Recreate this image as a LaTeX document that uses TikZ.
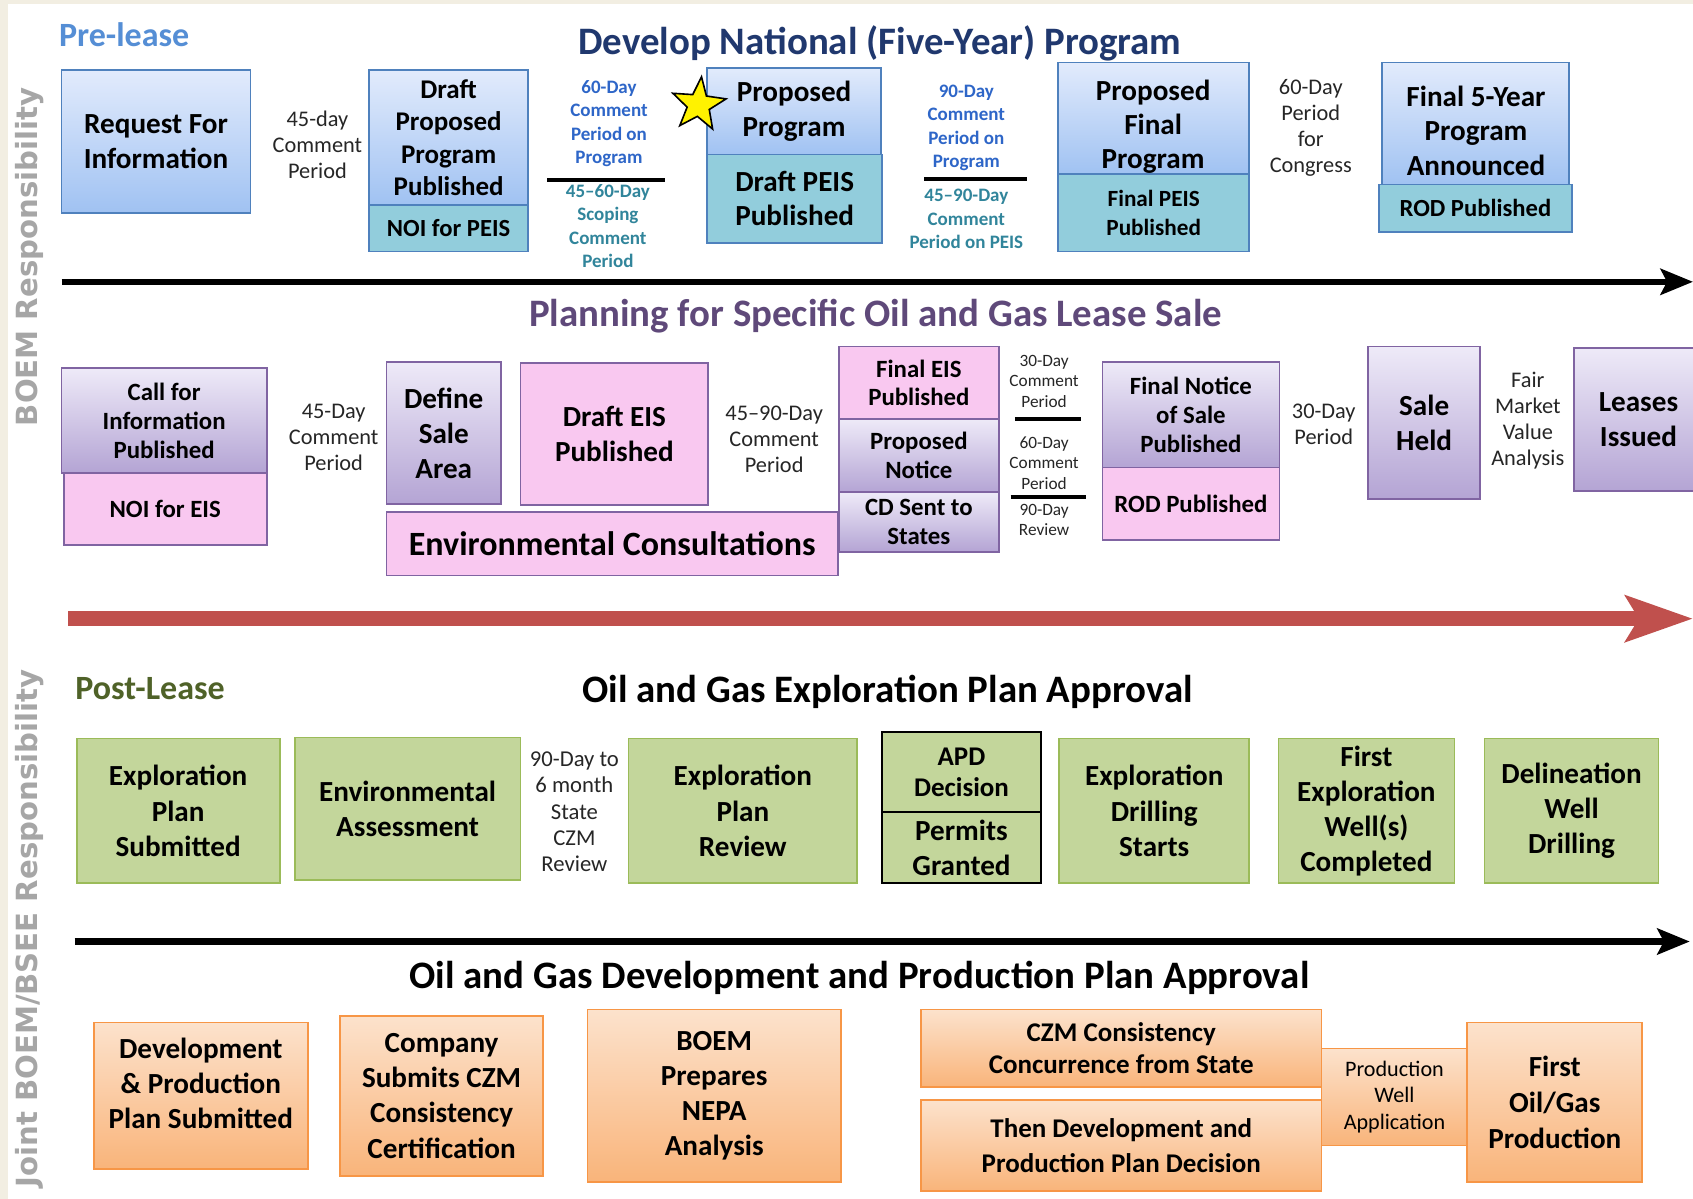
\documentclass[tikz,border=0pt]{standalone}
\usepackage{fontspec}
\setmainfont{Carlito}
\newfontfamily\sidefont{DejaVu Sans}
\usetikzlibrary{arrows.meta,shapes.geometric}
\definecolor{beige}{RGB}{242,238,226}
\definecolor{navy}{RGB}{32,56,110}
\definecolor{preblue}{RGB}{85,142,213}
\definecolor{bluB}{RGB}{79,129,189}
\definecolor{blueT}{RGB}{226,235,252}
\definecolor{blueBt}{RGB}{160,194,242}
\definecolor{tealF}{RGB}{146,205,220}
\definecolor{txtblue}{RGB}{46,102,200}
\definecolor{txtteal}{RGB}{49,133,155}
\definecolor{purTitle}{RGB}{95,73,122}
\definecolor{purB}{RGB}{128,100,162}
\definecolor{purT}{RGB}{238,234,248}
\definecolor{purBt}{RGB}{180,164,212}
\definecolor{pinkF}{RGB}{249,200,240}
\definecolor{grnF}{RGB}{195,214,155}
\definecolor{grnB}{RGB}{155,187,89}
\definecolor{grnTitle}{RGB}{79,98,40}
\definecolor{orgB}{RGB}{247,150,70}
\definecolor{orgT}{RGB}{252,226,204}
\definecolor{orgBt}{RGB}{249,180,122}
\definecolor{redA}{RGB}{192,80,77}
\definecolor{sidegray}{RGB}{166,166,166}
\definecolor{dtxt}{RGB}{38,38,38}
\newcommand\fsz[2]{\fontsize{#1pt}{#2pt}\selectfont}
\newcommand\bx[7]{\node[#6, minimum width={#4-#2}, minimum height={#5-#3}] (#1) at ({(#2+#4)/2},{(#3+#5)/2}) {#7};}
\begin{document}
\begin{tikzpicture}[x=1pt,y=-1pt,
  every node/.style={inner sep=0pt, align=center},
  boxbase/.style={line width=1.6pt, font=\bfseries\fsz{27}{32}},
  blu/.style={boxbase, draw=bluB, top color=blueT, bottom color=blueBt},
  tealbox/.style={boxbase, draw=bluB, fill=tealF},
  pur/.style={boxbase, draw=purB, top color=purT, bottom color=purBt},
  pnk/.style={boxbase, draw=purB, fill=pinkF},
  grn/.style={boxbase, draw=grnB, fill=grnF, font=\bfseries\fsz{27}{32.5}},
  org/.style={boxbase, draw=orgB, top color=orgT, bottom color=orgBt, font=\bfseries\fsz{27}{32.5}},
  lbl/.style={text=dtxt, font=\fsz{20.7}{24.3}},
  sml/.style={text=dtxt, font=\fsz{16}{19}},
  bluetxt/.style={text=txtblue, font=\bfseries\fsz{17.6}{21.7}},
  tealtxt/.style={text=txtteal, font=\bfseries\fsz{17.6}{21.7}},
  ttl/.style={font=\bfseries\fsz{36}{40}},
  side/.style={rotate=90, text=sidegray, font=\sidefont\bfseries\fsz{27}{30}},
  bar/.style={line width=4pt, draw=black},
  blackarrow/.style={line width=6pt, -{Stealth[length=30pt,width=24pt,inset=6pt]}},
  redarrow/.style={line width=14pt, draw=redA, -{Stealth[length=62pt,width=42pt,inset=12pt]}}
]
\useasboundingbox (0,0) rectangle (1568,1110);
\fill[white] (0,0) rectangle (1568,1110);
\fill[beige] (0,0) rectangle (1568,4);
\fill[beige] (0,0) rectangle (7,1110);

% side labels
\node[side] (sideA) at (27,238) {BOEM Responsibility};
\node[side] (sideB) at (27,860) {Joint BOEM/BSEE Responsibility};

% ---------------- Section 1
\node[text=preblue, font=\bfseries\fsz{31.5}{34}] (pre) at (115,32) {Pre-lease};
\node[ttl, text=navy] (title1) at (815,40) {Develop National (Five-Year) Program};

\bx{rfi}{57}{65}{232}{197}{blu}{Request For\\Information}
\node[lbl] (c45) at (294,134) {45-day\\Comment\\Period};
\bx{dpp}{342}{65}{489}{190}{blu, font=\bfseries\fsz{25}{30}}{Draft\\Proposed\\Program\\Published}
\bx{noi}{342}{190}{489}{233}{tealbox, font=\bfseries\fsz{22.8}{26}}{NOI for PEIS}
\node[bluetxt] (bl1) at (564,114.5) {60-Day\\Comment\\Period on\\Program};
\coordinate (l1a) at (507,167); \coordinate (l1b) at (616,167);
\draw[bar] (l1a) -- (l1b);
\node[tealtxt] (tl1) at (563,209.5) {45--60-Day\\Scoping\\Comment\\Period};
\bx{pp}{655}{63}{816}{143}{blu}{Proposed\\Program}
\bx{dpeis}{655}{143}{817}{225}{tealbox}{Draft PEIS\\Published}
\node[star, star points=5, star point ratio=2.4, draw=black, fill=yellow, line width=1.5pt, minimum size=52pt, rotate=-6] (star) at (647,97) {};
\node[bluetxt] (bl2) at (895,118.5) {90-Day\\Comment\\Period on\\Program};
\coordinate (l2a) at (856,166); \coordinate (l2b) at (951,166);
\draw[bar] (l2a) -- (l2b);
\node[tealtxt] (tl2) at (895,203) {45--90-Day\\Comment\\Period on PEIS};
\bx{pfp}{980}{58}{1157}{161}{blu}{}
\node[font=\bfseries\fsz{27}{31.5}] (pfpT) at (1068,117.5) {Proposed\\Final\\Program};
\bx{fpeis}{980}{161}{1157}{233}{tealbox, font=\bfseries\fsz{21.5}{27}}{Final PEIS\\Published}
\node[lbl] (c60) at (1214,118.5) {60-Day\\Period\\for\\Congress};
\bx{f5}{1280}{58}{1453}{171}{blu}{}
\node[font=\bfseries\fsz{27}{32}] (f5T) at (1367,121) {Final 5-Year\\Program\\Announced};
\bx{rod1}{1277}{171}{1456}{215}{tealbox, font=\bfseries\fsz{22.8}{26}}{ROD Published}
\coordinate (a1s) at (57,261); \coordinate (a1e) at (1568,261);
\draw[blackarrow] (a1s) -- (a1e);

% ---------------- Section 2
\node[ttl, text=purTitle] (title2) at (811,293) {Planning for Specific Oil and Gas Lease Sale};
\bx{cfi}{57}{341}{247}{438}{pur, font=\bfseries\fsz{23}{27}}{Call for\\Information\\Published}
\bx{noi2}{59}{438}{247}{505}{pnk, font=\bfseries\fsz{23}{26}}{NOI for EIS}
\node[lbl] (c45b) at (309,405) {45-Day\\Comment\\Period};
\bx{dsa}{358}{335}{464}{467}{pur, font=\bfseries\fsz{27}{32.5}}{Define\\Sale\\Area}
\bx{deis}{482}{336}{656}{468}{pnk}{Draft EIS\\Published}
\bx{envc}{358}{474}{776}{533}{pnk, font=\bfseries\fsz{31.5}{34}}{Environmental Consultations}
\node[lbl] (c4590) at (717,407) {45--90-Day\\Comment\\Period};
\bx{feis}{777}{321}{925}{388}{pnk, font=\bfseries\fsz{23}{26.5}}{Final EIS\\Published}
\bx{pn}{777}{388}{925}{456}{pur, font=\bfseries\fsz{23}{26.5}}{Proposed\\Notice}
\bx{cd}{777}{456}{925}{511}{pur, font=\bfseries\fsz{23}{26.5}}{CD Sent to\\States}
\node[sml] (s30) at (967,353) {30-Day\\Comment\\Period};
\coordinate (lAa) at (940,388); \coordinate (lAb) at (1001,388);
\draw[bar, line width=3.5pt] (lAa) -- (lAb);
\node[sml] (s60) at (967,429) {60-Day\\Comment\\Period};
\coordinate (lBa) at (936,460); \coordinate (lBb) at (1006,460);
\draw[bar, line width=3.5pt] (lBa) -- (lBb);
\node[sml] (s90) at (967,481.5) {90-Day\\Review};
\bx{fns}{1021}{335}{1185}{433}{pur, font=\bfseries\fsz{23}{27}}{Final Notice\\of Sale\\Published}
\bx{rod2}{1021}{433}{1185}{500}{pnk, font=\bfseries\fsz{23}{26}}{ROD Published}
\node[lbl] (c30) at (1226,393) {30-Day\\Period};
\bx{sh}{1267}{321}{1371}{462}{pur, font=\bfseries\fsz{27}{32.5}}{Sale\\Held}
\node[lbl] (fmv) at (1415,389.5) {Fair\\Market\\Value\\Analysis};
\bx{li}{1458}{322}{1577}{455}{pur, font=\bfseries\fsz{27}{32.5}}{Leases\\Issued}
\coordinate (a2s) at (63,573); \coordinate (a2e) at (1568,573);
\draw[redarrow] (a2s) -- (a2e);

% ---------------- Section 3
\node[text=grnTitle, font=\bfseries\fsz{31.5}{34}] (post) at (139,638) {Post-Lease};
\node[ttl] (title3) at (822,641) {Oil and Gas Exploration Plan Approval};
\bx{eps}{71}{684}{259}{818}{grn}{Exploration\\Plan\\Submitted}
\bx{ea}{273}{683}{482}{815}{grn}{Environmental\\Assessment}
\node[lbl, font=\fsz{21}{24.3}] (czm) at (532,752) {90-Day to\\6 month\\State\\CZM\\Review};
\bx{epr}{582}{684}{794}{818}{grn}{Exploration\\Plan\\Review}
\bx{apd}{817}{678}{964}{752}{grn, draw=black, font=\bfseries\fsz{25}{29}}{APD\\Decision}
\bx{pg}{817}{752}{964}{818}{grn, draw=black}{Permits\\Granted}
\bx{eds}{981}{684}{1157}{818}{grn}{Exploration\\Drilling\\Starts}
\bx{few}{1184}{684}{1347}{818}{grn}{First\\Exploration\\Well(s)\\Completed}
\bx{dwd}{1375}{684}{1536}{818}{grn}{Delineation\\Well\\Drilling}
\coordinate (a3s) at (69,872); \coordinate (a3e) at (1565,872);
\draw[blackarrow] (a3s) -- (a3e);

% ---------------- Section 4
\node[ttl] (title4) at (796,906) {Oil and Gas Development and Production Plan Approval};
\bx{dps}{87}{947}{285}{1083}{org}{}
\node[font=\bfseries\fsz{27}{32.5}] (dpsT) at (186,1003.5) {Development\\\& Production\\Plan Submitted};
\bx{csc}{315}{941}{503}{1089}{org}{Company\\Submits CZM\\Consistency\\Certification}
\bx{bpn}{544}{935}{779}{1095}{org}{BOEM\\Prepares\\NEPA\\Analysis}
\bx{czmc}{853}{935}{1224}{1007}{org, font=\bfseries\fsz{25}{30}}{CZM Consistency\\Concurrence from State}
\bx{tdp}{853}{1019}{1224}{1103}{org, font=\bfseries\fsz{25}{32}}{Then Development and\\Production Plan Decision}
\bx{pwa}{1224}{971}{1359}{1061}{org, font=\fsz{20.5}{24.5}}{Production\\Well\\Application}
\bx{fog}{1359}{947}{1521}{1095}{org, font=\bfseries\fsz{27}{33}}{First\\Oil/Gas\\Production}
\end{tikzpicture}
\end{document}
